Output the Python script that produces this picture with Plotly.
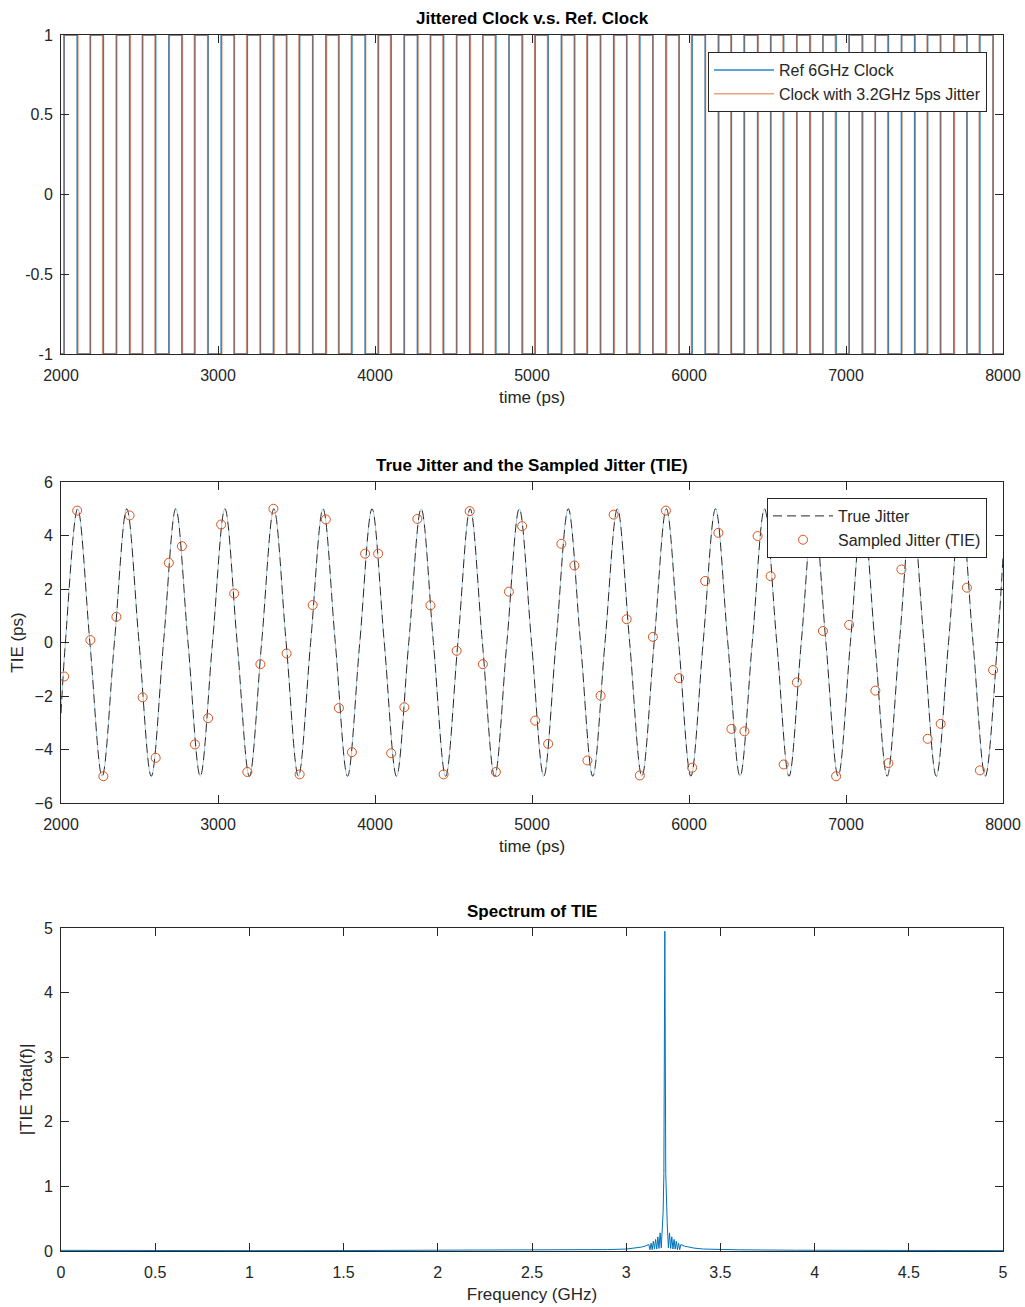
import plotly.graph_objects as go
from plotly.subplots import make_subplots

# ---------------- data ----------------
# Sampled jitter (TIE): sample times (ps) = ideal clock-edge times of the 6 GHz reference
tie_t = [2020, 2103, 2187, 2270, 2353, 2437, 2520, 2603, 2687, 2770, 2853, 2937,
         3020, 3103, 3187, 3270, 3353, 3437, 3520, 3603, 3687, 3770, 3853, 3937,
         4020, 4103, 4187, 4270, 4353, 4437, 4520, 4603, 4687, 4770, 4853, 4937,
         5020, 5103, 5187, 5270, 5353, 5437, 5520, 5603, 5687, 5770, 5853, 5937,
         6020, 6103, 6187, 6270, 6353, 6437, 6520, 6603, 6687, 6770, 6853, 6937,
         7020, 7103, 7187, 7270, 7353, 7437, 7520, 7603, 7687, 7770, 7853, 7937]
tie_v = [-1.27, 4.93, 0.09, -5.00, 0.96, 4.75, -2.05, -4.31, 2.98, 3.60, -3.81, -2.83,
         4.41, 1.83, -4.84, -0.81, 5.00, -0.41, -4.93, 1.40, 4.60, -2.45, -4.10, 3.32,
         3.32, -4.14, -2.42, 4.62, 1.39, -4.93, -0.31, 4.91, -0.81, -4.84, 1.90, 4.35,
         -2.92, -3.79, 3.69, 2.88, -4.41, -1.99, 4.78, 0.87, -4.97, 0.21, 4.93, -1.33,
         -4.68, 2.30, 4.10, -3.23, -3.32, 3.98, 2.48, -4.56, -1.49, 4.60, 0.43, -5.00,
         0.66, 5.00, -1.80, -4.51, 2.73, 4.50, -3.60, -3.04, 4.20, 2.05, -4.78, -1.03]

# True jitter: extrema and zero crossings (ps, ps)
true_t = [2000, 2028, 2106, 2184, 2262, 2340, 2419, 2497, 2575, 2653, 2731, 2809, 2887,
          2965, 3044, 3122, 3200, 3278, 3356, 3434, 3512, 3590, 3669, 3747, 3825,
          3903, 3981, 4059, 4137, 4215, 4294, 4372, 4450, 4528, 4606, 4684, 4762,
          4840, 4919, 4997, 5075, 5153, 5231, 5309, 5387, 5465, 5544, 5622, 5700,
          5778, 5856, 5934, 6012, 6090, 6169, 6247, 6325, 6403, 6481, 6559, 6637,
          6715, 6794, 6872, 6950, 7028, 7106, 7184, 7262, 7340, 7419, 7497, 7575,
          7653, 7731, 7809, 7887, 7965, 8000]
true_v = [-2.65, 0, 5, 0, -5, 0, 5, 0, -5, 0, 5, 0, -5,
          0, 5, 0, -5, 0, 5, 0, -5, 0, 5, 0, -5,
          0, 5, 0, -5, 0, 5, 0, -5, 0, 5, 0, -5,
          0, 5, 0, -5, 0, 5, 0, -5, 0, 5, 0, -5,
          0, 5, 0, -5, 0, 5, 0, -5, 0, 5, 0, -5,
          0, 5, 0, -5, 0, 5, 0, -5, 0, 5, 0, -5,
          0, 5, 0, -5, 0, 3.2]

# Spectrum of TIE
spec_f = [0.0, 0.5, 1.0, 1.5, 2.0, 2.5, 2.8, 2.9, 3.0, 3.05, 3.08, 3.10,
          3.12, 3.126, 3.132, 3.138, 3.144, 3.15, 3.156, 3.162, 3.168, 3.174,
          3.18, 3.186, 3.192, 3.196, 3.200, 3.205, 3.210, 3.214, 3.218,
          3.224, 3.23, 3.236, 3.242, 3.248, 3.254, 3.26, 3.266, 3.272, 3.278,
          3.284, 3.29, 3.31, 3.33, 3.36, 3.41, 3.5, 3.6, 3.9, 4.4, 5.0]
spec_v = [0.010, 0.005, 0.006, 0.007, 0.009, 0.012, 0.018, 0.022, 0.030, 0.045, 0.060, 0.075,
          0.10, 0.02, 0.12, 0.02, 0.15, 0.03, 0.18, 0.03, 0.22, 0.04,
          0.28, 0.05, 0.40, 0.60, 1.20, 4.95, 1.20, 0.60, 0.40,
          0.05, 0.28, 0.04, 0.22, 0.03, 0.18, 0.03, 0.15, 0.02, 0.12,
          0.02, 0.10, 0.075, 0.060, 0.045, 0.030, 0.022, 0.018, 0.012, 0.009, 0.006]

# tick labels
t_ticks = [2000, 3000, 4000, 5000, 6000, 7000, 8000]
clk_yticks = [-1, -0.5, 0, 0.5, 1]
tie_yticks = [-6, -4, -2, 0, 2, 4, 6]
f_ticks = [0, 0.5, 1, 1.5, 2, 2.5, 3, 3.5, 4, 4.5, 5]
f_ticklabels = ["0", "0.5", "1", "1.5", "2", "2.5", "3", "3.5", "4", "4.5", "5"]
spec_yticks = [0, 1, 2, 3, 4, 5]

# ---------------- build clock waveforms from the edge times ----------------
BLUE = "#0072BD"
ORANGE = "#D95319"
AX = "#262626"
FONT = "Liberation Sans, Arial, sans-serif"


def square_wave(edges, start_level, t0, t1):
    xs = [t0]
    ys = [start_level]
    lvl = start_level
    for e in edges:
        lvl = -lvl
        xs.append(e)
        ys.append(lvl)
    xs.append(t1)
    ys.append(lvl)
    return xs, ys


ref_x, ref_y = square_wave(tie_t, -1, 2000, 8000)
jit_edges = [t + v for t, v in zip(tie_t, tie_v)]
jit_x, jit_y = square_wave(jit_edges, -1, 2000, 8000)

fig = make_subplots(rows=3, cols=1, vertical_spacing=0.0)

fig.add_trace(go.Scatter(x=ref_x, y=ref_y, mode="lines", line_shape="hv",
                         line=dict(color=BLUE, width=1.5, simplify=False),
                         opacity=0.85, name="Ref 6GHz Clock",
                         legend="legend"), row=1, col=1)
fig.add_trace(go.Scatter(x=jit_x, y=jit_y, mode="lines", line_shape="hv",
                         line=dict(color=ORANGE, width=1.5, simplify=False), opacity=0.55,
                         name="Clock with 3.2GHz 5ps Jitter", legend="legend"), row=1, col=1)

# true jitter: faint blue fill in dash gaps + black dashes
fig.add_trace(go.Scatter(x=true_t, y=true_v, mode="lines", line_shape="spline",
                         line=dict(color=BLUE, width=1, dash="0px,9px,5px,0px"),
                         opacity=0.35, showlegend=False, hoverinfo="skip"), row=2, col=1)
fig.add_trace(go.Scatter(x=true_t, y=true_v, mode="lines", line_shape="spline",
                         line=dict(color="#262626", width=1, dash="9px,5px"),
                         name="True Jitter", legend="legend2"), row=2, col=1)
fig.add_trace(go.Scatter(x=tie_t, y=tie_v, mode="markers",
                         marker=dict(symbol="circle-open", size=9, color=ORANGE,
                                     line=dict(width=1, color=ORANGE)),
                         name="Sampled Jitter (TIE)", legend="legend2"), row=2, col=1)

fig.add_trace(go.Scatter(x=spec_f, y=spec_v, mode="lines",
                         line=dict(color=BLUE, width=1), showlegend=False), row=3, col=1)

# ---------------- layout ----------------
L, R, T, B = 61, 22, 35, 56
H_PLOT = 1307 - T - B


def yfrac(px):
    return (1251 - px) / H_PLOT


doms = [(yfrac(354), 1.0), (yfrac(803), yfrac(482)), (0.0, yfrac(928))]

axis_common = dict(showline=True, linecolor=AX, linewidth=1, mirror="ticks",
                   ticks="inside", ticklen=8, tickcolor=AX, tickwidth=1,
                   showgrid=False, zeroline=False, automargin=False,
                   tickfont=dict(family=FONT, size=16, color=AX))
xstand = dict(ticklabelstandoff=7)
ystand = dict(ticklabelstandoff=4)
title_font = dict(family=FONT, size=17, color=AX)
leg_font = dict(family=FONT, size=16, color=AX)

fig.update_layout(
    width=1025, height=1307,
    margin=dict(l=L, r=R, t=T, b=B, autoexpand=False),
    paper_bgcolor="white", plot_bgcolor="white",
    font=dict(family=FONT, color=AX),
    xaxis=dict(domain=[0, 1], range=[2000, 8000], tickvals=t_ticks,
               title=dict(text="time (ps)", font=title_font, standoff=7),
               **axis_common, **xstand),
    yaxis=dict(domain=list(doms[0]), range=[-1, 1], tickvals=clk_yticks,
               ticktext=["-1", "-0.5", "0", "0.5", "1"], **axis_common, **ystand),
    xaxis2=dict(domain=[0, 1], range=[2000, 8000], tickvals=t_ticks,
                title=dict(text="time (ps)", font=title_font, standoff=7),
                **axis_common, **xstand),
    yaxis2=dict(domain=list(doms[1]), range=[-6, 6], tickvals=tie_yticks,
                title=dict(text="TIE (ps)", font=title_font, standoff=6),
                **axis_common, **ystand),
    xaxis3=dict(domain=[0, 1], range=[0, 5], tickvals=f_ticks, ticktext=f_ticklabels,
                title=dict(text="Frequency (GHz)", font=title_font, standoff=7),
                **axis_common, **xstand),
    yaxis3=dict(domain=list(doms[2]), range=[0, 5], tickvals=spec_yticks,
                title=dict(text="|TIE Total(f)|", font=title_font, standoff=6),
                **axis_common, **ystand),
    legend=dict(x=(987 - L) / 942, y=yfrac(52), xanchor="right", yanchor="top",
                bgcolor="white", bordercolor=AX, borderwidth=1,
                font=leg_font, tracegroupgap=0, itemwidth=60),
    legend2=dict(x=(987 - L) / 942, y=yfrac(498), xanchor="right", yanchor="top",
                 bgcolor="white", bordercolor=AX, borderwidth=1,
                 font=leg_font, tracegroupgap=0, itemwidth=60),
)

titles = [("Jittered Clock v.s. Ref. Clock", 1.0),
          ("True Jitter and the Sampled Jitter (TIE)", yfrac(482)),
          ("Spectrum of TIE", yfrac(928))]
for text, yy in titles:
    fig.add_annotation(text="<b>" + text + "</b>", xref="paper", yref="paper",
                       x=0.5, y=yy, xanchor="center", yanchor="bottom", yshift=5,
                       showarrow=False, font=dict(family=FONT, size=17, color="black"))

fig.write_html("out.html")
